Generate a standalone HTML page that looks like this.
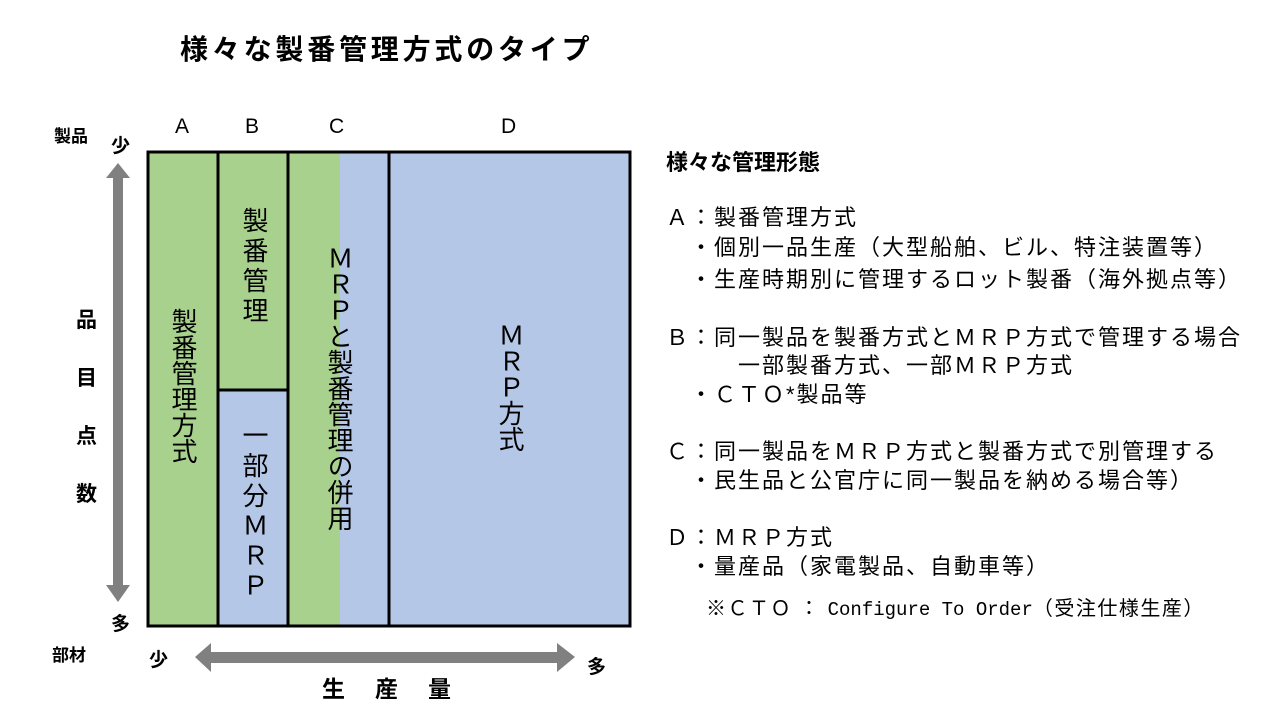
<!DOCTYPE html>
<html><head><meta charset="utf-8"><style>
body{margin:0;width:1280px;height:720px;background:#fff;position:relative;overflow:hidden;font-family:"Liberation Sans","Noto Sans CJK JP",sans-serif;color:#000}
.a{position:absolute;white-space:nowrap;line-height:1}
.t{font-size:22px;letter-spacing:2px}
.v{position:absolute;writing-mode:vertical-rl;text-orientation:upright;font-size:26px;line-height:1}
</style></head><body>
<div class="a" style="left:180px;top:36px;font-size:28px;font-weight:bold;letter-spacing:3.8px">様々な製番管理方式のタイプ</div>

<div class="a" style="left:54px;top:128px;font-size:17px;font-weight:bold">製品</div>
<div class="a" style="left:111px;top:137px;font-size:19px;font-weight:bold">少</div>
<div class="a" style="left:111px;top:615px;font-size:19px;font-weight:bold">多</div>
<div class="a" style="left:52px;top:647px;font-size:17px;font-weight:bold">部材</div>
<div class="a" style="left:149px;top:651px;font-size:19px;font-weight:bold">少</div>
<div class="a" style="left:587px;top:658px;font-size:19px;font-weight:bold">多</div>
<div class="a" style="left:76px;top:292px;font-size:21px;font-weight:bold;line-height:58px;width:24px;white-space:normal">品 目 点 数</div>
<div class="a" style="left:322px;top:678px;font-size:23px;font-weight:bold;letter-spacing:30px">生産量</div>

<div class="a" style="left:175px;top:116px;font-size:21px">A</div>
<div class="a" style="left:245px;top:116px;font-size:21px">B</div>
<div class="a" style="left:329px;top:116px;font-size:21px">C</div>
<div class="a" style="left:501px;top:116px;font-size:21px">D</div>

<svg style="position:absolute;left:0;top:0" width="1280" height="720">
<polygon points="118,163 130,178 123,178 123,585 130,585 118,602 106,585 113,585 113,178 106,178" fill="#808080"/>
<polygon points="195,657 211,643 211,652 557,652 557,643 575,657 557,672 557,663 211,663 211,672" fill="#808080"/>
<rect x="148" y="152" width="482" height="474" fill="#b4c7e7"/>
<rect x="148" y="152" width="192" height="474" fill="#a9d18e"/>
<rect x="219" y="390" width="69" height="236" fill="#b4c7e7"/>
<rect x="148" y="152" width="482" height="474" fill="none" stroke="#000" stroke-width="3"/>
<line x1="218" y1="152" x2="218" y2="626" stroke="#000" stroke-width="3"/>
<line x1="288" y1="152" x2="288" y2="626" stroke="#000" stroke-width="3"/>
<line x1="389" y1="152" x2="389" y2="626" stroke="#000" stroke-width="3"/>
<polyline points="218,390 288,390 288,626" fill="none" stroke="#000" stroke-width="3"/>
</svg>

<div class="v" style="left:170px;top:308px">製番管理方式</div>
<div class="v" style="left:241px;top:207px;letter-spacing:4px">製番管理</div>
<div class="v" style="left:241px;top:422px;letter-spacing:4px">一部分ＭＲＰ</div>
<div class="v" style="left:326px;top:245px">ＭＲＰと製番管理の併用</div>
<div class="v" style="left:497px;top:322px">ＭＲＰ方式</div>

<div class="a" style="left:666px;top:152px;font-size:22px;font-weight:bold">様々な管理形態</div>
<div class="a t" style="left:666px;top:207px">Ａ：製番管理方式</div>
<div class="a t" style="left:690px;top:237px">・個別一品生産（大型船舶、ビル、特注装置等）</div>
<div class="a t" style="left:690px;top:269px">・生産時期別に管理するロット製番（海外拠点等）</div>
<div class="a t" style="left:666px;top:327px">Ｂ：同一製品を製番方式とＭＲＰ方式で管理する場合</div>
<div class="a t" style="left:738px;top:355px">一部製番方式、一部ＭＲＰ方式</div>
<div class="a t" style="left:690px;top:384px">・ＣＴＯ*製品等</div>
<div class="a t" style="left:666px;top:441px">Ｃ：同一製品をＭＲＰ方式と製番方式で別管理する</div>
<div class="a t" style="left:690px;top:470px">・民生品と公官庁に同一製品を納める場合等）</div>
<div class="a t" style="left:666px;top:527px">Ｄ：ＭＲＰ方式</div>
<div class="a t" style="left:690px;top:556px">・量産品（家電製品、自動車等）</div>
<div class="a" style="left:706px;top:599px;font-size:20px;letter-spacing:1.5px">※ＣＴＯ ： <span style="font-family:'Liberation Mono',monospace;font-size:19px;letter-spacing:0">Configure To Order</span>（受注仕様生産）</div>
</body></html>
